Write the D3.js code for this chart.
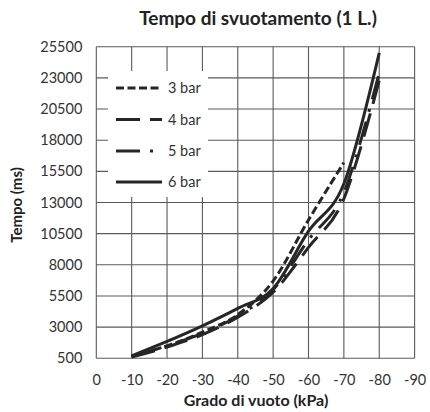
<!DOCTYPE html>
<html>
<head>
<meta charset="utf-8">
<script src="https://cdn.jsdelivr.net/npm/d3@7"></script>
<style>
  html, body { margin: 0; padding: 0; background: #fff; }
  svg { display: block; font-family: Lato, "Open Sans", sans-serif; }
</style>
</head>
<body>
<div id="chart"></div>
<script>
// ---- data ----
const xValues = [-10, -20, -30, -40, -50, -60, -70, -80];
const bar3 = [650, 1500, 2600, 4000, 6700, 11600, 16200, null];
const bar4 = [600, 1400, 2400, 3800, 5800, 9400, 13300, 22800];
const bar5 = [650, 1500, 2500, 3900, 6000, 10000, 13800, 23400];
const bar6 = [700, 1850, 3100, 4500, 6100, 10700, 14500, 25000];
const seriesNames = ["3 bar", "4 bar", "5 bar", "6 bar"];
const xTicks = [0, -10, -20, -30, -40, -50, -60, -70, -80, -90];
const yTicks = [500, 3000, 5500, 8000, 10500, 13000, 15500, 18000, 20500, 23000, 25500];
const chartTitle = "Tempo di svuotamento (1 L.)";
const xTitle = "Grado di vuoto (kPa)";
const yTitle = "Tempo (ms)";

const W = 430, H = 412;
const plot = { left: 96.3, right: 414.6, top: 46.7, bottom: 358.3 };

const svg = d3.select("#chart").append("svg").attr("width", W).attr("height", H);

const x = d3.scaleLinear().domain([0, -90]).range([plot.left, plot.right]);
const y = d3.scaleLinear().domain([500, 25500]).range([plot.bottom, plot.top]);

const gridColor = "#5a5a5a";
const ink = "#262626";

// grid
svg.append("g").selectAll("line.v").data(xTicks).join("line")
  .attr("x1", d => x(d)).attr("x2", d => x(d))
  .attr("y1", plot.top).attr("y2", plot.bottom)
  .attr("stroke", gridColor).attr("stroke-width", 1.1);
svg.append("g").selectAll("line.h").data(yTicks).join("line")
  .attr("x1", plot.left).attr("x2", plot.right)
  .attr("y1", d => y(d)).attr("y2", d => y(d))
  .attr("stroke", gridColor).attr("stroke-width", 1.1);

// axes labels via d3 axes
const xAxis = svg.append("g").attr("transform", `translate(0,${plot.bottom})`)
  .call(d3.axisBottom(x).tickValues(xTicks).tickSize(0).tickPadding(16).tickFormat(d => String(d)));
xAxis.select(".domain").remove();
xAxis.selectAll("text").attr("font-size", 14.5).attr("fill", "#333").attr("font-family", "Lato, sans-serif");

const yAxis = svg.append("g").attr("transform", `translate(${plot.left},0)`)
  .call(d3.axisLeft(y).tickValues(yTicks).tickSize(0).tickPadding(14).tickFormat(d => String(d)));
yAxis.select(".domain").remove();
yAxis.selectAll("text").attr("font-size", 14.5).attr("fill", "#333").attr("font-family", "Lato, sans-serif");

// series
const styles = [
  { dash: "8,3.5" },
  { dash: "24,10" },
  { dash: "24,10,3,10" },
  { dash: null }
];
const allSeries = [bar3, bar4, bar5, bar6];
const line = d3.line()
  .x(d => x(d[0])).y(d => y(d[1]))
  .curve(d3.curveCatmullRom.alpha(0));

allSeries.forEach((s, i) => {
  const pts = xValues.map((xv, j) => [xv, s[j]]).filter(p => p[1] != null);
  svg.append("path").datum(pts)
    .attr("d", line)
    .attr("fill", "none")
    .attr("stroke", ink)
    .attr("stroke-width", 3)
    .attr("stroke-dasharray", styles[i].dash)
    .attr("stroke-linecap", "butt");
});

// legend
const lg = svg.append("g");
lg.append("rect").attr("x", 108).attr("y", 71).attr("width", 100).attr("height", 126).attr("fill", "#fff");
const legendY = [88, 119.5, 151, 182];
seriesNames.forEach((name, i) => {
  lg.append("line").attr("x1", 116).attr("x2", 162)
    .attr("y1", legendY[i]).attr("y2", legendY[i])
    .attr("stroke", ink).attr("stroke-width", 3)
    .attr("stroke-dasharray", styles[i].dash);
  lg.append("text").attr("x", 168).attr("y", legendY[i]).attr("dy", "0.35em")
    .attr("font-size", 14.5).attr("fill", "#333").text(name);
});

// titles
svg.append("text").attr("x", 258).attr("y", 25).attr("text-anchor", "middle")
  .attr("font-weight", "bold").attr("font-size", 19).attr("fill", "#222").text(chartTitle);
svg.append("text").attr("x", 256).attr("y", 406).attr("text-anchor", "middle")
  .attr("font-weight", "bold").attr("font-size", 16).attr("fill", "#222").text(xTitle);
svg.append("text").attr("transform", "translate(22,205) rotate(-90)").attr("text-anchor", "middle")
  .attr("font-weight", "bold").attr("font-size", 15).attr("fill", "#222").text(yTitle);
</script>
</body>
</html>
